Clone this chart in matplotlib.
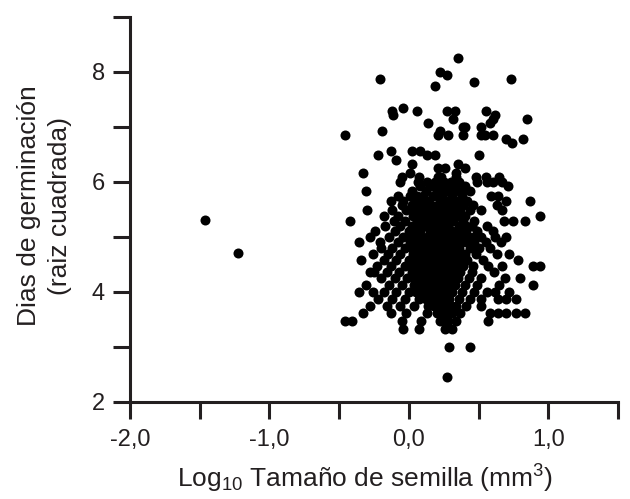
import matplotlib
matplotlib.use("Agg")
import matplotlib.pyplot as plt

plt.rcParams['font.family'] = ['Liberation Sans', 'DejaVu Sans']
plt.rcParams['mathtext.fontset'] = 'custom'
plt.rcParams['mathtext.rm'] = 'Liberation Sans'
plt.rcParams['mathtext.it'] = 'Liberation Sans'

# germination days (square root) levels and log10 seed sizes at each level
y_levels = [8.246, 8.0, 7.937, 7.874, 7.81, 7.746, 7.348, 7.28, 7.211, 7.141,
            7.071, 7.0, 6.928, 6.856, 6.782, 6.708, 6.557, 6.481, 6.403, 6.325,
            6.245, 6.164, 6.083, 6.0, 5.916, 5.831, 5.745, 5.657, 5.568, 5.477,
            5.385, 5.292, 5.196, 5.099, 5.0, 4.899, 4.796, 4.69, 4.583, 4.472,
            4.359, 4.243, 4.123, 4.0, 3.873, 3.742, 3.606, 3.464, 3.317, 3.0,
            2.449]
x_by_level = [
    [0.35],
    [0.22],
    [0.275],
    [-0.21, 0.73],
    [0.47],
    [0.19],
    [-0.045],
    [-0.12, 0.055, 0.27, 0.33, 0.55],
    [-0.115, 0.62],
    [0.32, 0.605, 0.845],
    [0.14, 0.58],
    [0.39, 0.40, 0.52],
    [-0.19, 0.22],
    [-0.46, 0.21, 0.28, 0.39, 0.52, 0.545, 0.605],
    [0.70, 0.82],
    [0.737],
    [-0.13, 0.02, 0.08],
    [-0.22, 0.13, 0.19, 0.50],
    [-0.09],
    [0.02, 0.355],
    [0.21, 0.26, 0.40],
    [-0.33, 0.01, 0.34],
    [-0.05, 0.07, 0.21, 0.23, 0.34, 0.48, 0.55, 0.65],
    [-0.065, 0.067, 0.13, 0.19, 0.25, 0.30, 0.36, 0.49, 0.557, 0.605, 0.665],
    [0.08, 0.16, 0.20, 0.23, 0.29, 0.33, 0.40, 0.71],
    [-0.31, 0.02, 0.12, 0.20, 0.24, 0.27, 0.33, 0.38, 0.44],
    [-0.08, 0.01, 0.06, 0.10, 0.17, 0.21, 0.24, 0.31, 0.38, 0.59, 0.64],
    [-0.13, -0.04, 0.05, 0.10, 0.14, 0.22, 0.28, 0.32, 0.35, 0.42, 0.70, 0.87],
    [-0.05, 0.02, 0.07, 0.12, 0.16, 0.21, 0.25, 0.29, 0.33, 0.39, 0.46, 0.63],
    [-0.30, -0.12, -0.02, 0.04, 0.09, 0.14, 0.19, 0.23, 0.27, 0.32, 0.37, 0.44, 0.52, 0.67],
    [-0.18, -0.08, 0.03, 0.08, 0.13, 0.18, 0.22, 0.26, 0.30, 0.35, 0.40, 0.94],
    [-0.42, -0.11, -0.03, 0.06, 0.11, 0.17, 0.21, 0.25, 0.29, 0.32, 0.39, 0.47, 0.68, 0.75, 0.83],
    [-0.17, -0.06, 0.02, 0.07, 0.11, 0.16, 0.20, 0.24, 0.28, 0.36, 0.41, 0.45, 0.56],
    [-0.24, -0.10, 0.00, 0.04, 0.08, 0.15, 0.19, 0.23, 0.27, 0.31, 0.35, 0.41, 0.49, 0.60],
    [-0.28, -0.14, -0.04, 0.01, 0.05, 0.09, 0.13, 0.17, 0.21, 0.24, 0.27, 0.30, 0.34, 0.38, 0.43, 0.47, 0.52, 0.62, 0.70],
    [-0.36, -0.21, -0.08, 0.01, 0.06, 0.10, 0.14, 0.18, 0.22, 0.25, 0.28, 0.32, 0.38, 0.42, 0.47, 0.55, 0.66],
    [-0.20, -0.12, -0.03, 0.02, 0.07, 0.12, 0.16, 0.20, 0.24, 0.27, 0.30, 0.33, 0.36, 0.44, 0.50, 0.58],
    [-0.26, -0.15, -0.06, 0.03, 0.08, 0.12, 0.16, 0.20, 0.24, 0.27, 0.30, 0.33, 0.37, 0.40, 0.48, 0.63, 0.72],
    [-0.34, -0.18, -0.09, 0.00, 0.05, 0.09, 0.13, 0.17, 0.20, 0.23, 0.26, 0.29, 0.35, 0.42, 0.53, 0.78],
    [-0.23, -0.13, -0.03, 0.02, 0.06, 0.10, 0.14, 0.18, 0.21, 0.24, 0.27, 0.30, 0.33, 0.39, 0.46, 0.57, 0.67, 0.89, 0.94],
    [-0.28, -0.25, -0.16, -0.07, 0.02, 0.07, 0.11, 0.15, 0.19, 0.22, 0.25, 0.28, 0.31, 0.37, 0.45, 0.61],
    [-0.20, -0.10, -0.01, 0.04, 0.08, 0.12, 0.16, 0.20, 0.23, 0.26, 0.29, 0.32, 0.35, 0.43, 0.52, 0.69, 0.80],
    [-0.31, -0.14, -0.05, 0.04, 0.09, 0.13, 0.17, 0.21, 0.24, 0.27, 0.30, 0.33, 0.40, 0.49, 0.65, 0.89],
    [-0.36, -0.26, -0.18, -0.09, 0.00, 0.05, 0.10, 0.15, 0.19, 0.22, 0.25, 0.28, 0.31, 0.38, 0.47, 0.56, 0.62, 0.72],
    [-0.22, -0.12, -0.03, 0.07, 0.12, 0.17, 0.20, 0.23, 0.26, 0.29, 0.36, 0.44, 0.52, 0.64, 0.70, 0.77],
    [-0.28, -0.16, -0.06, 0.04, 0.14, 0.18, 0.21, 0.24, 0.27, 0.30, 0.34, 0.41, 0.52],
    [-0.33, -0.13, -0.02, 0.13, 0.20, 0.23, 0.26, 0.31, 0.37, 0.58, 0.64, 0.70, 0.77, 0.83],
    [-0.46, -0.41, -0.05, 0.09, 0.22, 0.25, 0.28, 0.34, 0.57],
    [-0.04, 0.07, 0.26, 0.31],
    [0.29, 0.44],
    [0.27],
]
# two small-seeded outliers
outlier_x = [-1.463, -1.225]
outlier_y = [5.30, 4.70]

x_ticks = [-2.0, -1.5, -1.0, -0.5, 0.0, 0.5, 1.0, 1.5]
x_ticklabels = ['-2,0', '', '-1,0', '', '0,0', '', '1,0', '']
y_ticks = [2, 3, 4, 5, 6, 7, 8, 9]
y_ticklabels = ['2', '', '4', '', '6', '', '8', '']

xs = [x for xl in x_by_level for x in xl] + outlier_x
ys = [y for y, xl in zip(y_levels, x_by_level) for _ in xl] + outlier_y

W, H = 630, 499
fig = plt.figure(figsize=(W / 100, H / 100), dpi=100)
ax = fig.add_axes([130 / W, 1 - 401.7 / H, 488 / W, 385 / H])
ax.scatter(xs, ys, s=52, color='black', linewidths=0, zorder=3, clip_on=False)

ax.set_xlim(-2.0, 1.5)
ax.set_ylim(2, 9)
axc = '#231f20'
for s in ['top', 'right']:
    ax.spines[s].set_visible(False)
for s in ['left', 'bottom']:
    ax.spines[s].set_linewidth(2.2)
    ax.spines[s].set_color(axc)
ax.set_xticks(x_ticks)
ax.set_xticklabels(x_ticklabels)
ax.set_yticks(y_ticks)
ax.set_yticklabels(y_ticklabels)
ax.tick_params(direction='out', length=12, width=2.2, color=axc, labelsize=17,
               labelcolor=axc)
ax.tick_params(axis='x', pad=8)
ax.tick_params(axis='y', pad=6)

fig.text(365 / W, 1 - 479 / H, 'Log$_{10}$ Tamaño de semilla (mm$^3$)',
         ha='center', va='center', fontsize=19, color=axc)
fig.text(29 / W, 1 - 206 / H, 'Dias de germinación', rotation=90,
         ha='center', va='center', fontsize=19, color=axc)
fig.text(60 / W, 1 - 206 / H, '(raiz cuadrada)', rotation=90,
         ha='center', va='center', fontsize=19, color=axc)

fig.savefig('out.png', dpi=100)
